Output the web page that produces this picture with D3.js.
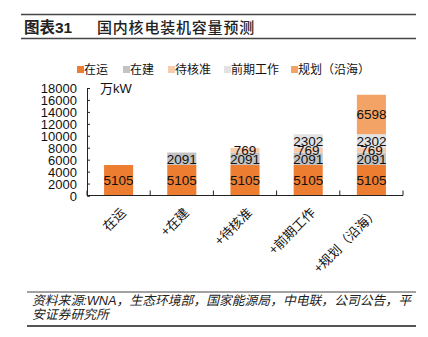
<!DOCTYPE html>
<html lang="zh">
<head>
<meta charset="UTF-8" />
<title>国内核电装机容量预测</title>
<script src="https://d3js.org/d3.v7.min.js"></script>
<style>
  body { margin: 0; background: #fff; }
  svg { display: block; font-family: "Liberation Sans", Arial, "Noto Sans CJK SC", sans-serif; }
  .axis path, .axis line { stroke: #222; }
  .axis text { font-size: 13px; fill: #111; }
</style>
</head>
<body>
<svg width="428" height="337"></svg>
<script>
// categories along the x axis (cumulative scenarios)
const categories = ['在运', '+在建', '+待核准', '+前期工作', '+规划（沿海）'];
// stacked series, 万kW
const seriesNames = ['在运', '在建', '待核准', '前期工作', '规划（沿海）'];
const seriesColors = ['#ED7D31', '#C3C3C3', '#F8CBAD', '#E2E2E2', '#F4A367'];
const operating   = [5105, 5105, 5105, 5105, 5105];
const building    = [0, 2091, 2091, 2091, 2091];
const pending     = [0, 0, 769, 769, 769];
const preliminary = [0, 0, 0, 2302, 2302];
const planned     = [0, 0, 0, 0, 6598];
const yTicks = [0, 2000, 4000, 6000, 8000, 10000, 12000, 14000, 16000, 18000];

const svg = d3.select('svg');

// header rules and title
svg.append('line').attr('x1', 21).attr('x2', 416).attr('y1', 14.5).attr('y2', 14.5)
  .attr('stroke', '#444').attr('stroke-width', 1.5);
svg.append('line').attr('x1', 21).attr('x2', 416).attr('y1', 38.5).attr('y2', 38.5)
  .attr('stroke', '#444').attr('stroke-width', 1.5);
svg.append('text').attr('x', 24).attr('y', 33).attr('font-size', 15.5).attr('font-weight', 'bold')
  .attr('fill', '#222').text('图表31');
svg.append('text').attr('x', 97).attr('y', 33).attr('font-size', 15).attr('letter-spacing', 0.8)
  .attr('font-weight', 500)
  .attr('fill', '#222').attr('font-family', '"Noto Sans CJK SC", sans-serif').text('国内核电装机容量预测');

const x = d3.scaleBand().domain(categories).range([87, 403]).paddingInner(0.54).paddingOuter(0.27);
const y = d3.scaleLinear().domain([0, 18000]).range([195.5, 88]);

const rows = categories.map((c, i) => ({
  cat: c,
  '在运': operating[i], '在建': building[i], '待核准': pending[i],
  '前期工作': preliminary[i], '规划（沿海）': planned[i]
}));
const stacked = d3.stack().keys(seriesNames)(rows);

const bars = svg.append('g');
stacked.forEach((layer, li) => {
  bars.selectAll(null).data(layer.filter(d => d[1] > d[0])).enter()
    .append('rect')
    .attr('x', d => x(d.data.cat))
    .attr('width', x.bandwidth())
    .attr('y', d => y(d[1]))
    .attr('height', d => y(d[0]) - y(d[1]))
    .attr('fill', seriesColors[li]);
});
stacked.forEach((layer) => {
  bars.selectAll(null).data(layer.filter(d => d[1] > d[0])).enter()
    .append('text')
    .attr('x', d => x(d.data.cat) + x.bandwidth() / 2)
    .attr('y', d => (y(d[0]) + y(d[1])) / 2 + 5)
    .attr('text-anchor', 'middle')
    .attr('font-size', 13.5)
    .attr('fill', '#111')
    .text(d => d[1] - d[0]);
});

// y axis, ticks pointing inward
svg.append('g').attr('class', 'axis').attr('transform', 'translate(87,0)')
  .call(d3.axisRight(y).tickValues(yTicks).tickSize(3).tickSizeOuter(3).tickFormat(d3.format('d')))
  .call(g => g.selectAll('text').attr('x', -10).attr('text-anchor', 'end').attr('dy', '0.35em'));

// x axis with ticks between bands, pointing up
const xAxis = svg.append('g').attr('class', 'axis').attr('transform', 'translate(0,195.5)');
xAxis.append('line').attr('x1', 87).attr('x2', 403).attr('stroke', '#222');
const bounds = d3.range(categories.length + 1).map(i => 87 + i * x.step());
xAxis.selectAll('.tick').data(bounds).enter().append('line')
  .attr('x1', d => d).attr('x2', d => d).attr('y1', 0).attr('y2', -5).attr('stroke', '#222');
xAxis.selectAll('.lbl').data(categories).enter().append('text')
  .attr('transform', d => `translate(${x(d) + x.bandwidth() / 2 + 8},18) rotate(-45)`)
  .attr('text-anchor', 'end')
  .attr('font-size', 13)
  .attr('fill', '#111')
  .attr('font-family', '"Noto Sans CJK SC", sans-serif')
  .text(d => d);

// unit label
svg.append('text').attr('x', 100).attr('y', 93).attr('font-size', 13).attr('fill', '#111').text('万kW');

// legend
const legendX = [77, 123, 168, 224, 291];
const legend = svg.append('g');
seriesNames.forEach((name, i) => {
  legend.append('rect').attr('x', legendX[i]).attr('y', 66).attr('width', 7).attr('height', 7)
    .attr('fill', seriesColors[i]);
  legend.append('text').attr('x', legendX[i] + 7).attr('y', 74).attr('font-size', 12)
    .attr('fill', '#111').attr('font-family', '"Noto Sans CJK SC", sans-serif').text(name);
});

// source note
svg.append('line').attr('x1', 27).attr('x2', 416).attr('y1', 292).attr('y2', 292)
  .attr('stroke', '#444').attr('stroke-width', 1);
svg.append('line').attr('x1', 27).attr('x2', 416).attr('y1', 326).attr('y2', 326)
  .attr('stroke', '#555').attr('stroke-width', 2);
const note = svg.append('text').attr('font-size', 12.8).attr('font-style', 'italic').attr('fill', '#222');
note.append('tspan').attr('x', 32).attr('y', 305).text('资料来源:WNA，生态环境部，国家能源局，中电联，公司公告，平');
note.append('tspan').attr('x', 32).attr('y', 319).text('安证券研究所');
</script>
</body>
</html>
